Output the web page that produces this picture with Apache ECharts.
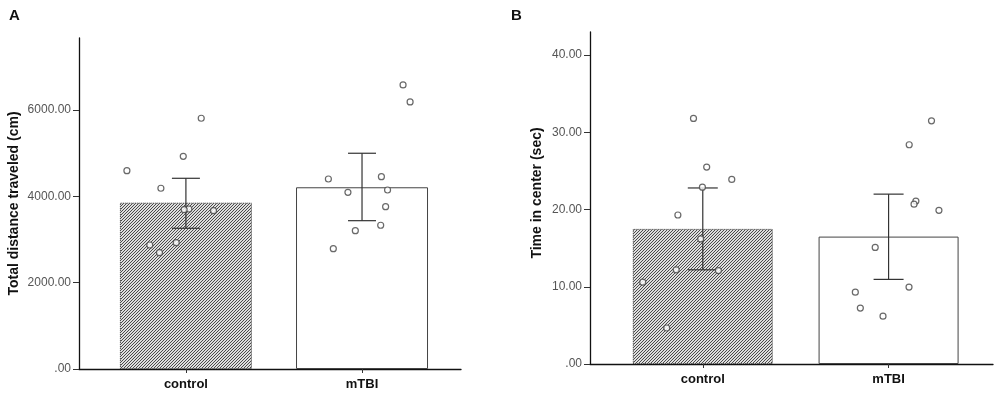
<!DOCTYPE html>
<html><head><meta charset="utf-8">
<script src="https://cdn.jsdelivr.net/npm/echarts@6/dist/echarts.min.js"></script>
<style>html,body{margin:0;padding:0;background:#fff}#c{width:1000px;height:403px}</style>
</head><body><div id="c"></div>
<script>
// ---- data ----
const categories = ['control', 'mTBI'];
// Panel A: Total distance traveled (cm)
const distMean = [3853, 4210];
const distErrLow = [3260, 3436];
const distErrHigh = [4418, 4998];
const distControlX = [0.665, 0.858, 0.985, 1.087, 1.017, 0.99, 1.157, 0.795, 0.85, 0.945];
const distControlY = [4595, 4187, 4928, 5809, 3707, 3690, 3668, 2873, 2695, 2926];
const distMtbiX = [2.233, 2.273, 1.809, 2.110, 1.920, 2.145, 2.134, 2.106, 1.962, 1.837];
const distMtbiY = [6580, 6186, 4402, 4456, 4094, 4147, 3761, 3330, 3205, 2788];
const distTicks = [0, 2000, 4000, 6000];
// Panel B: Time in center (sec)
const timeMean = [17.5, 16.5];
const timeErrLow = [12.2, 10.96];
const timeErrHigh = [22.8, 22.0];
const timeControlX = [0.950, 1.021, 1.156, 0.998, 0.866, 0.989, 0.857, 1.084, 0.677, 0.806];
const timeControlY = [31.8, 25.5, 23.9, 22.9, 19.3, 16.2, 12.2, 12.1, 10.6, 4.66];
const timeMtbiX = [2.231, 2.111, 2.147, 2.137, 2.271, 1.928, 2.110, 1.821, 1.848, 1.970];
const timeMtbiY = [31.5, 28.4, 21.1, 20.7, 19.9, 15.1, 9.96, 9.3, 7.24, 6.2];
const timeTicks = [0, 10, 20, 30, 40];

// ---- hatch pattern ----
const pc = document.createElement('canvas');
pc.width = 3; pc.height = 3;
const px = pc.getContext('2d');
px.fillStyle = '#dedede'; px.fillRect(0, 0, 3, 3);
px.fillStyle = '#4a4a4a';
px.fillRect(2, 0, 1, 1); px.fillRect(1, 1, 1, 1); px.fillRect(0, 2, 1, 1);
const hatch = { image: pc, repeat: 'repeat' };

const chart = echarts.init(document.getElementById('c'));
const FONT = 'Liberation Sans, Arial, sans-serif';

function fmt(v) { return v === 0 ? '.00' : v.toFixed(2); }

function xAxisDef(gi) {
  return {
    type: 'value', gridIndex: gi, min: 0.393, max: 2.562,
    splitLine: { show: false },
    axisLine: { lineStyle: { color: '#111', width: 1.3 } },
    axisTick: { customValues: [1, 2], length: 4, lineStyle: { color: '#333' } },
    axisLabel: {
      customValues: [1, 2], margin: 9,
      formatter: v => categories[Math.round(v) - 1],
      fontFamily: FONT, fontSize: 13, fontWeight: 'bold', color: '#111'
    }
  };
}
function yAxisDef(gi, max, ticks, name, gap, pad) {
  return {
    type: 'value', gridIndex: gi, min: 0, max: max,
    name: name, nameLocation: 'middle', nameGap: gap,
    nameTextStyle: { fontFamily: FONT, fontSize: 14, fontWeight: 'bold', color: '#111', padding: pad },
    splitLine: { show: false },
    axisLine: { show: true, lineStyle: { color: '#111', width: 1.3 } },
    axisTick: { show: true, customValues: ticks, length: 6, lineStyle: { color: '#333' } },
    axisLabel: {
      customValues: ticks, margin: 8, formatter: fmt,
      fontFamily: FONT, fontSize: 12, color: '#555'
    }
  };
}
function barSeries(gi, means) {
  return {
    type: 'bar', xAxisIndex: gi, yAxisIndex: gi, barWidth: gi === 0 ? 132 : 140,
    silent: true,
    data: means.map((m, i) => ({
      value: [i + 1, m],
      itemStyle: i === 0
        ? { color: hatch, borderColor: '#333', borderWidth: 1, borderType: 'dotted' }
        : { color: '#fff', borderColor: '#444', borderWidth: 1 }
    }))
  };
}
function errSeries(gi, lo, hi, capHalf) {
  return {
    type: 'custom', xAxisIndex: gi, yAxisIndex: gi, silent: true, z: 5,
    data: lo.map((l, i) => [i + 1, l, hi[i]]),
    renderItem: (params, api) => {
      const x = api.value(0);
      const p1 = api.coord([x, api.value(1)]);
      const p2 = api.coord([x, api.value(2)]);
      const st = { stroke: '#333', lineWidth: 1.2 };
      return {
        type: 'group', children: [
          { type: 'line', shape: { x1: p1[0], y1: p1[1], x2: p2[0], y2: p2[1] }, style: st },
          { type: 'line', shape: { x1: p1[0] - capHalf, y1: p1[1], x2: p1[0] + capHalf, y2: p1[1] }, style: st },
          { type: 'line', shape: { x1: p2[0] - capHalf, y1: p2[1], x2: p2[0] + capHalf, y2: p2[1] }, style: st }
        ]
      };
    }
  };
}
function dots(gi, xs, ys) {
  return {
    type: 'scatter', xAxisIndex: gi, yAxisIndex: gi, silent: true, z: 6,
    symbol: 'circle', symbolSize: 6,
    itemStyle: { color: '#fff', borderColor: '#444', borderWidth: 1.2 },
    data: xs.map((x, i) => [x, ys[i]])
  };
}

chart.setOption({
  animation: false,
  textStyle: { fontFamily: FONT },
  title: [
    { text: 'A', left: 4, top: 3, textStyle: { fontSize: 15, fontWeight: 'bold', color: '#111', fontFamily: FONT } },
    { text: 'B', left: 506, top: 3, textStyle: { fontSize: 15, fontWeight: 'bold', color: '#111', fontFamily: FONT } }
  ],
  grid: [
    { left: 79, top: 38, width: 382, height: 331 },
    { left: 590, top: 32, width: 403, height: 332 }
  ],
  xAxis: [xAxisDef(0), xAxisDef(1)],
  yAxis: [
    yAxisDef(0, 7668, distTicks, 'Total distance traveled (cm)', 58, [0, 0, 0, 0]),
    yAxisDef(1, 43, timeTicks, 'Time in center (sec)', 46, [0, 0, 0, 10])
  ],
  series: [
    barSeries(0, distMean), errSeries(0, distErrLow, distErrHigh, 14), dots(0, distControlX, distControlY), dots(0, distMtbiX, distMtbiY),
    barSeries(1, timeMean), errSeries(1, timeErrLow, timeErrHigh, 15), dots(1, timeControlX, timeControlY), dots(1, timeMtbiX, timeMtbiY)
  ]
});
</script></body></html>
